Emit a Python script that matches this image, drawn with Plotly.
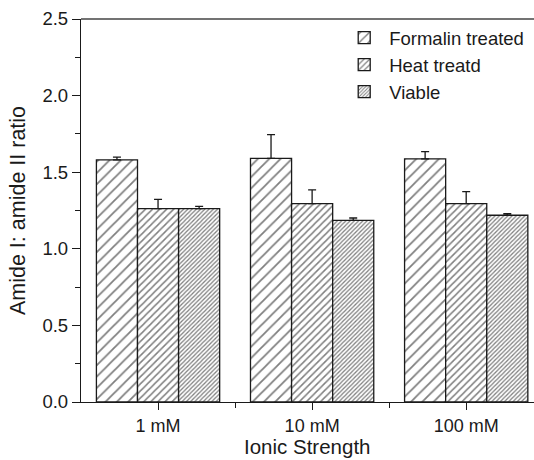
import plotly.graph_objects as go

categories = ["1 mM", "10 mM", "100 mM"]
series = ["Formalin treated", "Heat treatd", "Viable"]
formalin = [1.58, 1.59, 1.587]
heat = [1.262, 1.295, 1.295]
viable = [1.262, 1.186, 1.219]
formalin_err = [0.018, 0.155, 0.047]
heat_err = [0.06, 0.09, 0.078]
viable_err = [0.015, 0.015, 0.01]

values = [formalin, heat, viable]
errors = [formalin_err, heat_err, viable_err]
pattern_sizes = [8, 5, 3]
pattern_solidity = [0.22, 0.3, 0.42]

xpos = list(range(len(categories)))
font = "Liberation Sans, Arial, sans-serif"

fig = go.Figure()
for name, vals, errs, ps, sol in zip(series, values, errors, pattern_sizes, pattern_solidity):
    fig.add_trace(go.Bar(
        x=xpos, y=vals, name=name,
        marker=dict(color="white", line=dict(color="#1a1a1a", width=1.3),
                    pattern=dict(shape="/", size=ps, solidity=sol,
                                 fgcolor="#000", bgcolor="white", fillmode="overlay")),
        error_y=dict(type="data", array=errs, symmetric=False, arrayminus=[0]*len(errs),
                     color="#1a1a1a", thickness=1.3, width=4),
    ))

fig.update_layout(
    width=534, height=460,
    margin=dict(l=81, r=0, t=19, b=58),
    paper_bgcolor="white", plot_bgcolor="white",
    barmode="group", bargap=0.2, bargroupgap=0,
    font=dict(family=font, color="#1a1a1a", size=18.5),
    legend=dict(x=0.57, y=1.0, xanchor="left", yanchor="top",
                font=dict(size=18.5, family=font), bgcolor="rgba(0,0,0,0)",
                tracegroupgap=0, itemwidth=40),
    xaxis=dict(range=[-0.5, 2.44], tickvals=xpos, ticktext=categories, automargin=False,
               showgrid=False, zeroline=False, showline=True, linecolor="#1a1a1a", linewidth=1.3,
               mirror=False, ticks="outside", ticklen=7, tickcolor="#1a1a1a", tickwidth=1.3,
               minor=dict(tickvals=[0.5, 1.5], ticks="outside", ticklen=5, tickcolor="#1a1a1a"),
               tickfont=dict(size=18)),
    yaxis=dict(range=[0, 2.5], dtick=0.5, tickformat=".1f", automargin=False,
               showgrid=False, zeroline=False, showline=True, linecolor="#1a1a1a", linewidth=1.3,
               ticks="outside", ticklen=8, tickcolor="#1a1a1a", tickwidth=1.3,
               minor=dict(dtick=0.25, ticks="outside", ticklen=5, tickcolor="#1a1a1a"),
               tickfont=dict(size=18.5),
               title=dict(text="Amide I: amide II ratio", font=dict(size=21.5), standoff=10)),
)
fig.add_annotation(text="Ionic Strength", xref="paper", yref="paper", x=0.5, y=-0.117,
                   xanchor="center", yanchor="middle", showarrow=False,
                   font=dict(size=20.5, family=font, color="#1a1a1a"))
fig.add_shape(type="line", xref="paper", yref="paper", x0=0, x1=1, y0=1, y1=1,
              line=dict(color="#444", width=1.3))

fig.write_html("out.html")
